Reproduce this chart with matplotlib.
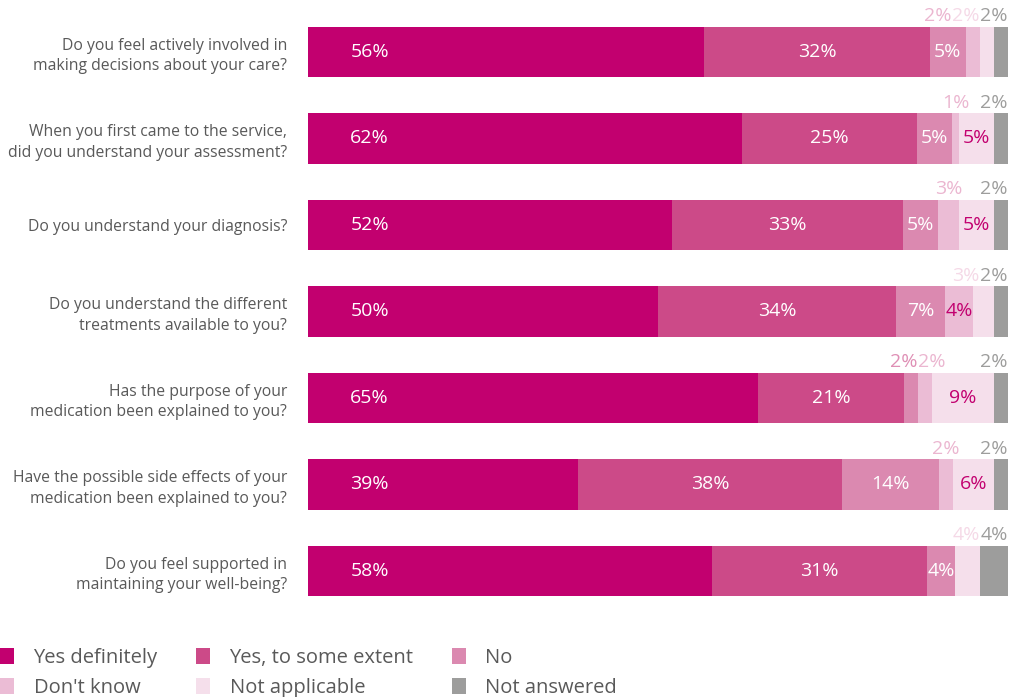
import matplotlib.pyplot as plt
import numpy as np
from matplotlib.patches import Patch

plt.rcParams['font.family'] = ['Open Sans', 'DejaVu Sans']

questions = [
    "Do you feel actively involved in\nmaking decisions about your care?",
    "When you first came to the service,\ndid you understand your assessment?",
    "Do you understand your diagnosis?",
    "Do you understand the different\ntreatments available to you?",
    "Has the purpose of your\nmedication been explained to you?",
    "Have the possible side effects of your\nmedication been explained to you?",
    "Do you feel supported in\nmaintaining your well-being?",
]
answers = ["Yes definitely", "Yes, to some extent", "No",
           "Don't know", "Not applicable", "Not answered"]

yes_def = [56, 62, 52, 50, 65, 39, 58]
yes_some = [32, 25, 33, 34, 21, 38, 31]
no = [5, 5, 5, 7, 2, 14, 4]
dont_know = [2, 1, 3, 4, 2, 2, 0]
not_appl = [2, 5, 5, 3, 9, 6, 3.6]
not_answ = [2, 2, 2, 2, 2, 2, 4]

colors = ["#c2006f", "#cc4a88", "#db89b0", "#ebbcd5", "#f5dfeb", "#9d9d9c"]
above_colors = ["#c2006f", "#cc4a88", "#df8fb5", "#ebb6d0", "#f5d9e7", "#9d9d9c"]
inside_colors = ["white", "white", "white", "#c2006f", "#c2006f", "white"]

data = np.array([yes_def, yes_some, no, dont_know, not_appl, not_answ], dtype=float)
data = data / data.sum(axis=0) * 100

fig = plt.figure(figsize=(10.16, 6.97), dpi=100)
ax = fig.add_axes([308 / 1016, 1 - 614.25 / 697, 700 / 1016, 605.5 / 697])

y = np.arange(len(questions))
lw = 4.0  # label width in data units
left = np.zeros(len(questions))
for k in range(6):
    ax.barh(y, data[k], left=left, height=0.58, color=colors[k], linewidth=0)
    left += data[k]

raw = np.array([yes_def, yes_some, no, dont_know, not_appl, not_answ], dtype=float)
for i in range(len(questions)):
    starts = np.concatenate([[0], np.cumsum(data[:, i])[:-1]])
    above = []
    for k in range(6):
        v = raw[k, i]
        if v == 0:
            continue
        lab = f"{round(v)}%"
        if v >= 3.8 and k != 5:
            xc = starts[k] + data[k, i] / 2 if k > 0 else 8.8
            ax.text(xc, i, lab, ha='center', va='center', fontsize=14,
                    color=inside_colors[k])
        else:
            above.append([starts[k] + data[k, i] / 2, lab, k])
    # push labels above the bar apart so they do not overlap
    xs = [a[0] for a in above]
    for _ in range(200):
        for j in range(len(xs) - 1):
            ov = xs[j] + lw - xs[j + 1]
            if ov > 0:
                xs[j] -= ov / 2
                xs[j + 1] += ov / 2
        if xs and xs[-1] > 100 - lw / 2:
            xs[-1] = 100 - lw / 2
    for xc, a in zip(xs, above):
        ax.text(xc, i - 0.31, a[1], ha='center', va='bottom', fontsize=14,
                color=above_colors[a[2]])

ax.set_xlim(0, 100)
ax.set_ylim(6.5, -0.5)
ax.set_yticks(y)
ax.set_yticklabels(questions, fontsize=11.3, color="#595959", linespacing=1.35)
ax.tick_params(axis='y', length=0, pad=15)
ax.set_xticks([])
for s in ax.spines.values():
    s.set_visible(False)

order = [0, 3, 1, 4, 2, 5]
handles = [Patch(facecolor=colors[k], edgecolor='none') for k in order]
fig.legend(handles, [answers[k] for k in order], ncol=3, loc='lower left',
           bbox_to_anchor=(-0.014, -0.022), frameon=False, fontsize=14.5,
           handlelength=0.72, handleheight=0.85, handletextpad=0.95,
           columnspacing=1.9, labelspacing=0.5, borderpad=0.2,
           labelcolor="#595959")

fig.savefig("out.png", dpi=100)
